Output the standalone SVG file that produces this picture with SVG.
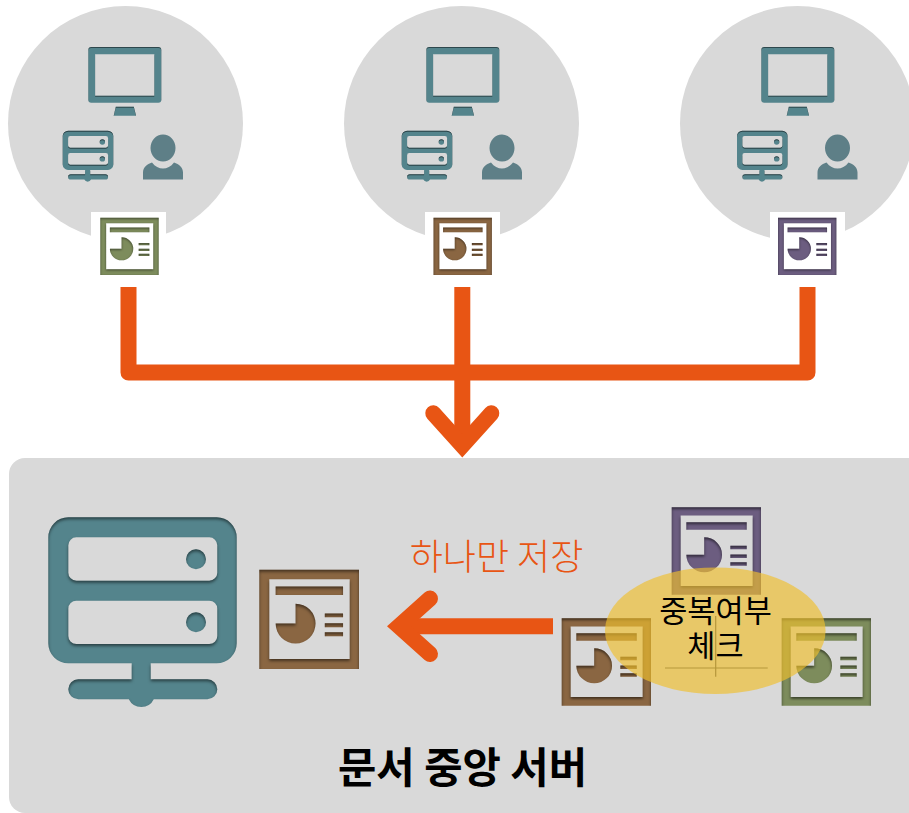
<svg xmlns="http://www.w3.org/2000/svg" width="909" height="813" viewBox="0 0 909 813">
<style>
.bg{fill:#d9d9d9}
.teal{fill:#54848c;filter:url(#inset)}
.tealS{fill:#54848c;filter:url(#insetS)}
.pers{fill:#5e7f87;filter:url(#insetP)}
.olive{fill:#7d8c5c;filter:url(#inset)}
.brown{fill:#8a6642;filter:url(#inset)}
.purple{fill:#6c5d80;filter:url(#inset)}
.wire{fill:none;stroke:#e85514;stroke-width:16;stroke-linejoin:round;stroke-linecap:butt}
.head{fill:none;stroke:#e85514;stroke-width:16;stroke-linejoin:miter;stroke-miterlimit:4;stroke-linecap:round}
.txt{font-family:"Noto Sans CJK KR","Liberation Sans",sans-serif;text-anchor:middle}
</style>
<defs>
<filter id="inset" x="-10%" y="-10%" width="120%" height="120%" color-interpolation-filters="sRGB">
<feComponentTransfer in="SourceAlpha" result="inv"><feFuncA type="table" tableValues="1 0"/></feComponentTransfer>
<feOffset in="inv" dy="2.2" result="off"/>
<feGaussianBlur in="off" stdDeviation="1.5" result="blur"/>
<feFlood flood-color="#000" flood-opacity=".5"/>
<feComposite in2="blur" operator="in"/>
<feComposite in2="SourceAlpha" operator="in" result="sh"/>
<feMerge><feMergeNode in="SourceGraphic"/><feMergeNode in="sh"/></feMerge>
</filter>
<filter id="insetS" x="-10%" y="-10%" width="120%" height="120%" color-interpolation-filters="sRGB">
<feComponentTransfer in="SourceAlpha" result="inv"><feFuncA type="table" tableValues="1 0"/></feComponentTransfer>
<feOffset in="inv" dy="1" result="off"/>
<feGaussianBlur in="off" stdDeviation=".7" result="blur"/>
<feFlood flood-color="#000" flood-opacity=".45"/>
<feComposite in2="blur" operator="in"/>
<feComposite in2="SourceAlpha" operator="in" result="sh"/>
<feMerge><feMergeNode in="SourceGraphic"/><feMergeNode in="sh"/></feMerge>
</filter>
<filter id="insetP" x="-10%" y="-10%" width="120%" height="120%" color-interpolation-filters="sRGB">
<feGaussianBlur stdDeviation=".5"/>
</filter>
<path id="doc" fill-rule="evenodd" d="M0 0H100V100H0ZM10 9.500V90H90.700V9.500ZM16.400 17H84V25.600H16.400ZM36.400 34.300A20 20 0 1 1 16.400 54.300H36.400ZM65.700 44H84V48H65.700ZM65.700 54H84V58H65.700ZM65.700 63H84V67H65.700Z"/>
<path id="srv" fill-rule="evenodd" d="M20 0H168.400A20 20 0 0 1 188.400 20V126A20 20 0 0 1 168.400 146H102.400V162H159A10 10 0 0 1 159 182H105.500A14 14 0 0 1 80.500 182H30A10 10 0 0 1 30 162H83.400V146H20A20 20 0 0 1 0 126V20A20 20 0 0 1 20 0ZM28 20A8 8 0 0 0 20 28V55.400A8 8 0 0 0 28 63.400H161A8 8 0 0 0 169 55.400V28A8 8 0 0 0 161 20ZM28 83.400A8 8 0 0 0 20 91.400V118.700A8 8 0 0 0 28 126.700H161A8 8 0 0 0 169 118.700V91.400A8 8 0 0 0 161 83.400ZM157.700 42A10 10 0 1 0 137.700 42A10 10 0 1 0 157.700 42ZM157.700 105A10 10 0 1 0 137.700 105A10 10 0 1 0 157.700 105Z"/>
<path id="mon" fill-rule="evenodd" d="M3 0H70A3 3 0 0 1 73 3V52.700A3 3 0 0 1 70 55.700H3A3 3 0 0 1 0 52.700V3A3 3 0 0 1 3 0ZM6.800 7.300V48.700H66V7.300ZM27.500 59.700H45.500L47.800 68.700H25.400Z"/>
<path id="per" d="M20 0C27 0 32.500 6 32.500 13.500C32.500 21 27 27 20 27C13 27 7.500 21 7.500 13.500C7.500 6 13 0 20 0ZM9 28C12 32 16 34 20 34C24 34 28 32 31 28C36 29.500 40 33 40 38V45H0V38C0 33 4 29.500 9 28Z"/>
</defs>
<g id="client-1">
<circle class="bg" cx="125.500" cy="123.500" r="117.500"/>
<use href="#mon" class="tealS" x="88.300" y="47"/>
<use href="#srv" class="teal" transform="translate(62.700 130.700) scale(.2686)"/>
<use href="#per" class="pers" x="143" y="134.500"/>
<rect x="91" y="212" width="75" height="70" fill="#fff"/>
<use href="#doc" class="olive" transform="translate(100.300 217.700) scale(.584 .573)"/>
</g>
<g id="client-2">
<circle class="bg" cx="461.500" cy="123.500" r="117.500"/>
<use href="#mon" class="tealS" x="426.300" y="47"/>
<use href="#srv" class="teal" transform="translate(401.700 130.700) scale(.2686)"/>
<use href="#per" class="pers" x="482" y="134.500"/>
<rect x="425" y="212" width="75" height="70" fill="#fff"/>
<use href="#doc" class="brown" transform="translate(433.500 217.700) scale(.584 .573)"/>
</g>
<g id="client-3">
<circle class="bg" cx="797.500" cy="123.500" r="117.500"/>
<use href="#mon" class="tealS" x="761.300" y="47"/>
<use href="#srv" class="teal" transform="translate(737 130.700) scale(.2686)"/>
<use href="#per" class="pers" x="817.500" y="134.500"/>
<rect x="770" y="212" width="75" height="70" fill="#fff"/>
<use href="#doc" class="purple" transform="translate(778 217.700) scale(.584 .573)"/>
</g>
<g id="central-server">
<rect class="bg" x="9" y="458" width="915" height="355" rx="16"/>
<use href="#srv" class="teal" x="48.300" y="517.300"/>
<use href="#doc" class="brown" transform="translate(259.300 569.700) scale(.997 .993)"/>
<text class="txt" x="462.500" y="783" font-size="41.700" font-weight="700" fill="#000">문서 중앙 서버</text>
</g>
<g id="duplicate-check">
<use href="#doc" class="purple" transform="translate(671.700 507.300) scale(.893 .874)"/>
<use href="#doc" class="brown" transform="translate(561.700 618.300) scale(.893 .874)"/>
<use href="#doc" class="olive" transform="translate(781.700 618.300) scale(.893 .874)"/>
<ellipse cx="715.300" cy="630.700" rx="110.300" ry="63.300" fill="#f0c02e" fill-opacity=".66"/>
<path d="M715.700 616V676.700M665 668H767.700" fill="none" stroke="#b5973a" stroke-width="1.200"/>
<text class="txt" font-size="30.600" fill="#000"><tspan x="715.500" y="622">중복여부</tspan><tspan x="715.500" y="656.500">체크</tspan></text>
</g>
<g id="connectors">
<path class="wire" d="M128.500 287V372.500H462.300M807.500 287V372.500H462.300M462.300 287V448"/>
<path class="head" d="M433.300 413.300L462.300 445.500L491.300 413.300"/>
<path class="wire" d="M553 626.300H402"/>
<path class="head" d="M430 598.500L399 626.300L430 654"/>
<text class="txt" x="496.500" y="569.500" font-size="36" font-weight="300" fill="#e85514">하나만 저장</text>
</g>
</svg>
